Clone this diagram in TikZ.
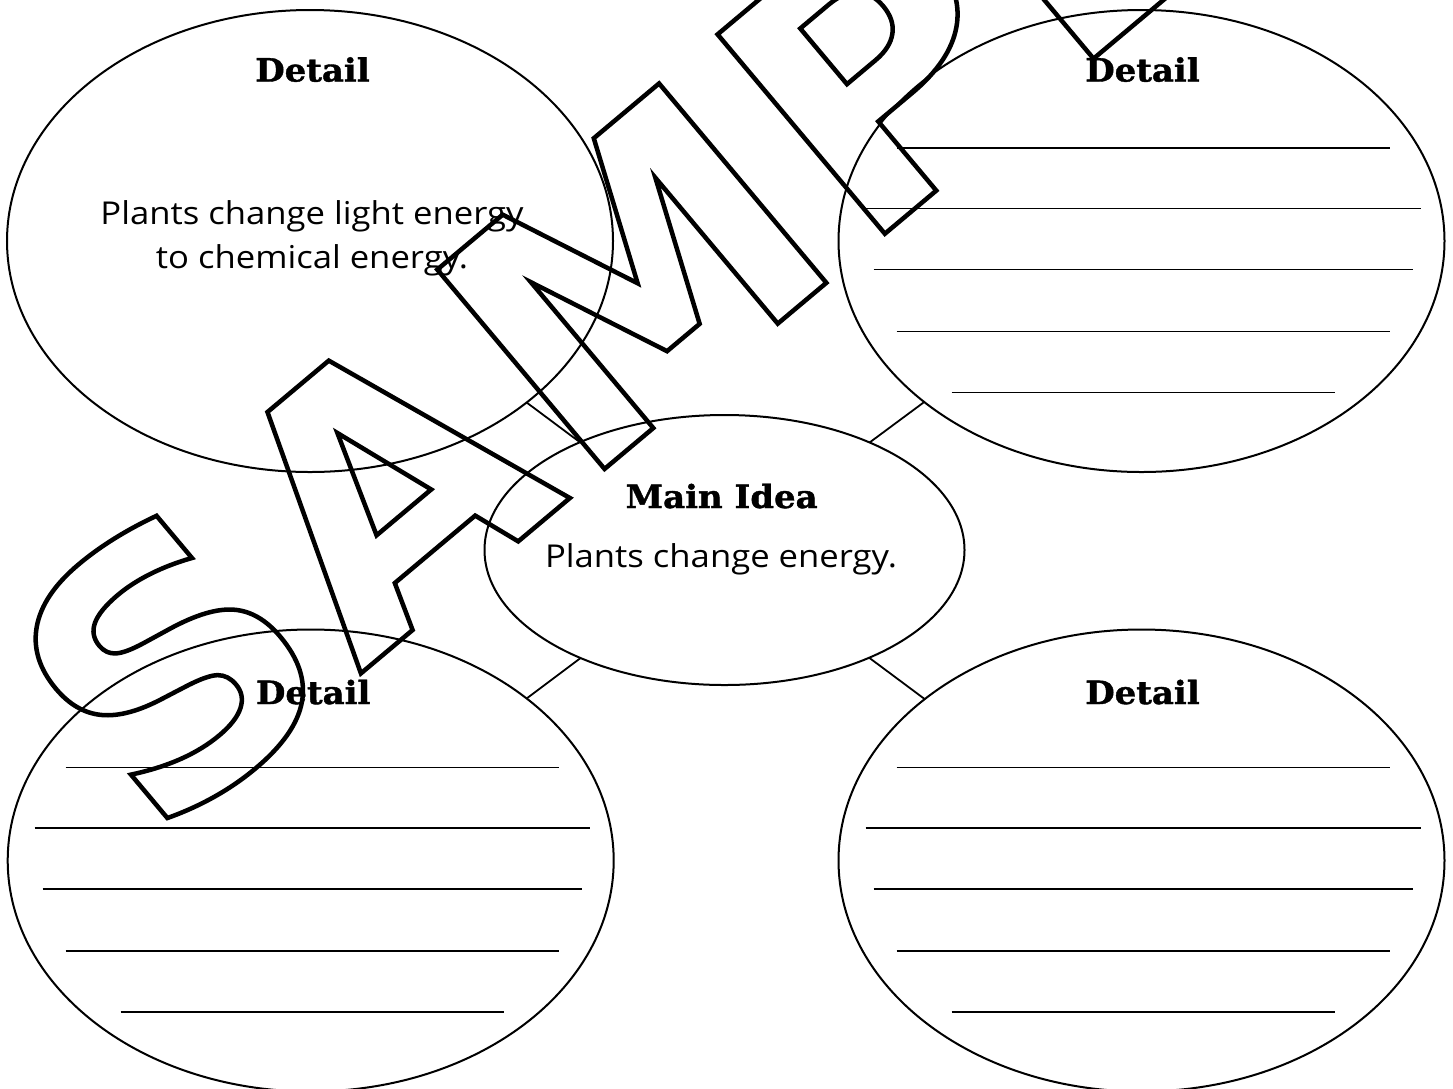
\documentclass[tikz,border=0pt]{standalone}
\usepackage{fontspec}
\setmainfont{Open Sans}
\newfontfamily\headfont{DejaVu Serif}[FakeStretch=1.06,FakeBold=1.2]
\newfontfamily\bodyfont{Open Sans}[FakeStretch=1.1]
\newfontfamily\wmfont{DejaVu Sans}[LetterSpace=3]
\usetikzlibrary{shapes.geometric}
\begin{document}
\begin{tikzpicture}[x=1pt,y=-1pt,
  bubble/.style={draw, ellipse, line width=2pt, inner sep=0pt, outer sep=0pt},
  link/.style={line width=1.8pt},
  writerule/.style={line width=1.7pt},
  heading/.style={anchor=base, inner sep=0pt, font=\headfont\bfseries\fontsize{32}{36}\selectfont},
  body/.style={anchor=base, inner sep=0pt, font=\bodyfont\fontsize{31.5}{40}\selectfont},
  wm/.style={anchor=base west, inner sep=0pt, rotate=40, font=\wmfont\bfseries\fontsize{357}{400}\selectfont},
]
\useasboundingbox (0,0) rectangle (1453,1088);
% ellipses
\node[bubble, minimum width=606pt, minimum height=462pt] (tl) at (310,241) {};
\node[bubble, minimum width=606pt, minimum height=462pt] (tr) at (1141.5,241) {};
\node[bubble, minimum width=606pt, minimum height=462pt] (bl) at (310.7,860.5) {};
\node[bubble, minimum width=606pt, minimum height=462pt] (br) at (1141.5,860.5) {};
\node[bubble, minimum width=480pt, minimum height=270pt] (main) at (724.5,550) {};
% connectors
\draw[link] (main) -- (tl);
\draw[link] (main) -- (tr);
\draw[link] (main) -- (bl);
\draw[link] (main) -- (br);
% headings
\node[heading] (tlh) at ([shift={(2.5,-159.5)}]tl.center) {Detail};
\node[heading] (trh) at ([shift={(1,-159.5)}]tr.center) {Detail};
\node[heading] (blh) at ([shift={(2.5,-156.5)}]bl.center) {Detail};
\node[heading] (brh) at ([shift={(1,-156.5)}]br.center) {Detail};
\node[heading] (mainh) at (721.6,508) {Main Idea};
% body text
\node[body] (tlt1) at (312,224) {Plants change light energy};
\node[body] (tlt2) at (312,268) {to chemical energy.};
\node[body] (maint) at (721,567) {Plants change energy.};
% writing lines
\foreach \e in {tr,bl,br}{
  \draw[writerule] ([shift={(-245,-93)}]\e.center) -- ([shift={(248,-93)}]\e.center);
  \draw[writerule] ([shift={(-276,-32.5)}]\e.center) -- ([shift={(279,-32.5)}]\e.center);
  \draw[writerule] ([shift={(-268,28.5)}]\e.center) -- ([shift={(271,28.5)}]\e.center);
  \draw[writerule] ([shift={(-245,90.5)}]\e.center) -- ([shift={(248,90.5)}]\e.center);
  \draw[writerule] ([shift={(-190,151.5)}]\e.center) -- ([shift={(193,151.5)}]\e.center);
}
% watermark
\node[wm] (wmark) at (154.6,846.5) {\special{pdf:literal direct 1 Tr 4.5 w}SAMPLE\special{pdf:literal direct 0 Tr}};
\end{tikzpicture}
\end{document}
